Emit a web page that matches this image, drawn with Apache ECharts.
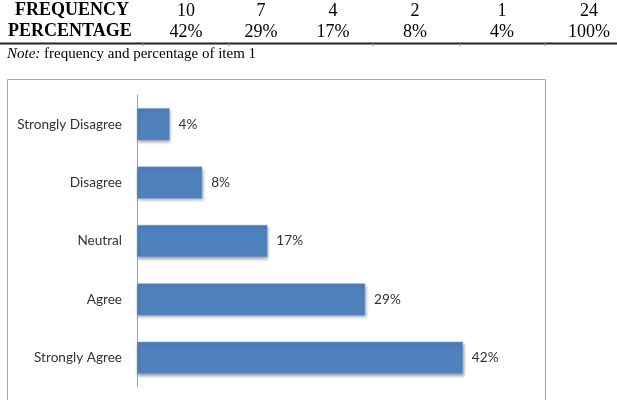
<!DOCTYPE html>
<html>
<head>
<meta charset="utf-8">
<script src="https://cdn.jsdelivr.net/npm/echarts@6/dist/echarts.min.js"></script>
<style>
  html, body { margin: 0; padding: 0; background: #fff; }
  #chart { width: 617px; height: 400px; }
</style>
</head>
<body>
<div id="chart"></div>
<script>
// table above the chart
var rowTitles = ['FREQUENCY', 'PERCENTAGE'];
var frequencies = ['10', '7', '4', '2', '1', '24'];
var percentLabels = ['42%', '29%', '17%', '8%', '4%', '100%'];
var noteText = 'frequency and percentage of item 1';

// bar chart (bottom to top)
var categories = ['Strongly Agree', 'Agree', 'Neutral', 'Disagree', 'Strongly Disagree'];
var percentages = [41.67, 29.17, 16.67, 8.33, 4.17];

var colX = [186, 261, 333, 415, 502, 589];
var sepX = [143, 229, 373, 460, 545];

var chart = echarts.init(document.getElementById('chart'));

var graphics = [];
// table rows
rowTitles.forEach(function (t, i) {
	graphics.push({
		type: 'text', left: i === 0 ? 15 : 8, top: i === 0 ? 1 : 22,
		style: { text: t, font: 'bold 18px "Liberation Serif"', fill: '#000' }
	});
});
frequencies.forEach(function (v, i) {
	graphics.push({
		type: 'text', x: colX[i], y: 11,
		style: { text: v, font: '18px "Liberation Serif"', fill: '#000', align: 'center', verticalAlign: 'middle' }
	});
	graphics.push({
		type: 'text', x: colX[i], y: 32,
		style: { text: percentLabels[i], font: '18px "Liberation Serif"', fill: '#000', align: 'center', verticalAlign: 'middle' }
	});
});
// rule under the table
graphics.push({
	type: 'line', shape: { x1: 0, y1: 43.5, x2: 617, y2: 43.5 },
	style: { stroke: '#222', lineWidth: 2 }
});
sepX.forEach(function (x) {
	graphics.push({
		type: 'line', shape: { x1: x, y1: 42, x2: x, y2: 46 },
		style: { stroke: '#888', lineWidth: 1 }
	});
});
// note
graphics.push({
	type: 'text', left: 7, top: 47,
	style: {
		text: '{i|Note:} ' + noteText,
		font: '15px "Liberation Serif"', fill: '#000',
		rich: { i: { fontStyle: 'italic', fontFamily: 'Liberation Serif', fontSize: 15 } }
	}
});
// chart box
graphics.push({
	type: 'rect', shape: { x: 7.5, y: 79.5, width: 538, height: 340 },
	style: { fill: 'none', stroke: '#a6a6a6', lineWidth: 1 }, z: -1
});

var option = {
	animation: false,
	graphic: graphics,
	grid: { left: 137, top: 95, width: 391, height: 292 },
	xAxis: {
		type: 'value', min: 0, max: 50, show: false,
		splitLine: { show: false }
	},
	yAxis: {
		type: 'category',
		data: categories,
		axisLine: { show: true, lineStyle: { color: '#a0a0a0', width: 1 } },
		axisTick: { show: false },
		axisLabel: { color: '#333', fontFamily: 'Lato', fontSize: 13.6, margin: 15 }
	},
	series: [{
		type: 'bar',
		data: percentages,
		barWidth: 32,
		itemStyle: {
			color: '#4F81BD',
			borderColor: '#6f9bd1',
			borderWidth: 0.5,
			shadowColor: 'rgba(0,0,0,0.35)',
			shadowBlur: 3,
			shadowOffsetX: 1,
			shadowOffsetY: 2
		},
		label: {
			show: true,
			position: 'right',
			distance: 9,
			color: '#333',
			fontFamily: 'Lato',
			fontSize: 13.6,
			formatter: function (p) { return Math.round(p.value) + '%'; }
		}
	}]
};

chart.setOption(option);
</script>
</body>
</html>
